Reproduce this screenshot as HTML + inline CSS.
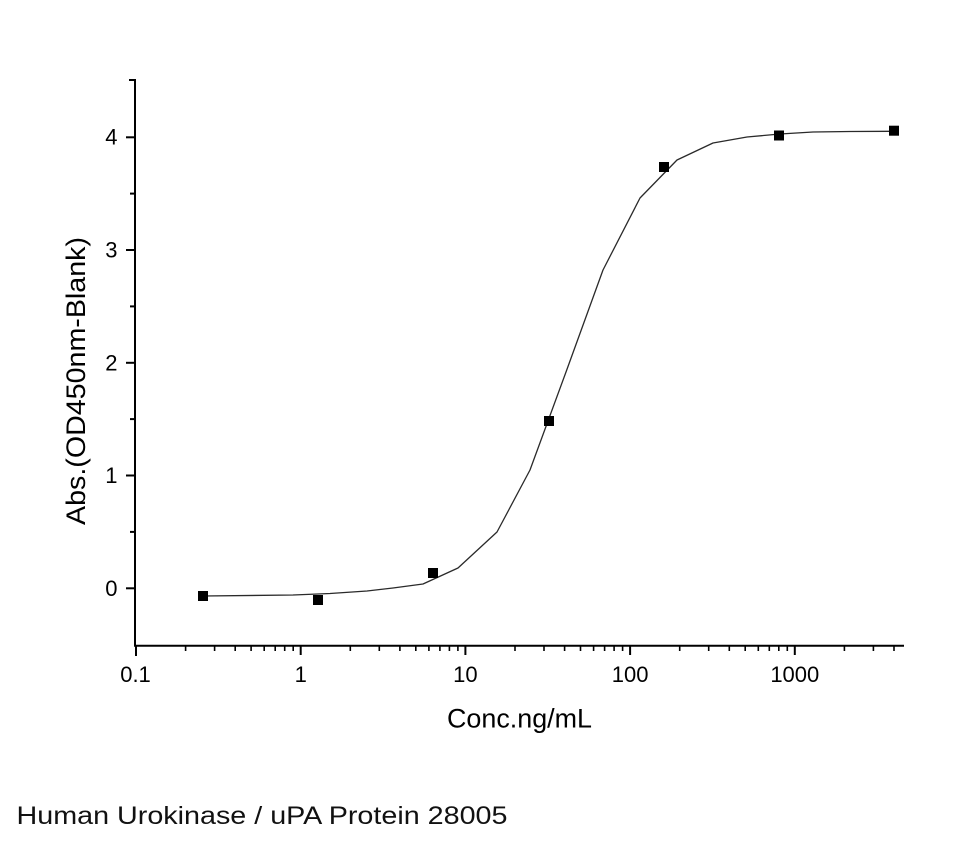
<!DOCTYPE html>
<html><head><meta charset="utf-8"><style>
html,body{margin:0;padding:0;background:#fff;}
svg{display:block;}
text{font-family:"Liberation Sans",Arial,sans-serif;fill:#000;}
</style></head><body>
<svg width="960" height="842" viewBox="0 0 960 842" xmlns="http://www.w3.org/2000/svg">
<rect width="960" height="842" fill="#fff"/>
<g stroke="#000" stroke-width="2" fill="none">
<line x1="135" y1="79" x2="135" y2="646"/>
<line x1="134" y1="645.7" x2="904" y2="645.7"/>
<line x1="126" y1="588.3" x2="135" y2="588.3"/>
<line x1="126" y1="475.5" x2="135" y2="475.5"/>
<line x1="126" y1="362.8" x2="135" y2="362.8"/>
<line x1="126" y1="250" x2="135" y2="250"/>
<line x1="126" y1="137.3" x2="135" y2="137.3"/>
<line x1="130" y1="531.9" x2="135" y2="531.9"/>
<line x1="130" y1="419.1" x2="135" y2="419.1"/>
<line x1="130" y1="306.4" x2="135" y2="306.4"/>
<line x1="130" y1="193.6" x2="135" y2="193.6"/>
<line x1="129" y1="80" x2="135" y2="80"/>
<line x1="136" y1="645" x2="136" y2="656"/>
<line x1="300.7" y1="645" x2="300.7" y2="655"/>
<line x1="465.4" y1="645" x2="465.4" y2="655"/>
<line x1="630.1" y1="645" x2="630.1" y2="655"/>
<line x1="794.8" y1="645" x2="794.8" y2="655"/>
</g>
<g stroke="#000" stroke-width="1.6">
<line x1="185.6" y1="645" x2="185.6" y2="651"/><line x1="214.6" y1="645" x2="214.6" y2="651"/><line x1="235.2" y1="645" x2="235.2" y2="651"/><line x1="251.1" y1="645" x2="251.1" y2="651"/><line x1="264.2" y1="645" x2="264.2" y2="651"/><line x1="275.2" y1="645" x2="275.2" y2="651"/><line x1="284.7" y1="645" x2="284.7" y2="651"/><line x1="293.2" y1="645" x2="293.2" y2="651"/>
<line x1="350.3" y1="645" x2="350.3" y2="651"/><line x1="379.3" y1="645" x2="379.3" y2="651"/><line x1="399.9" y1="645" x2="399.9" y2="651"/><line x1="415.8" y1="645" x2="415.8" y2="651"/><line x1="428.9" y1="645" x2="428.9" y2="651"/><line x1="439.9" y1="645" x2="439.9" y2="651"/><line x1="449.4" y1="645" x2="449.4" y2="651"/><line x1="457.9" y1="645" x2="457.9" y2="651"/>
<line x1="515" y1="645" x2="515" y2="651"/><line x1="544" y1="645" x2="544" y2="651"/><line x1="564.6" y1="645" x2="564.6" y2="651"/><line x1="580.5" y1="645" x2="580.5" y2="651"/><line x1="593.6" y1="645" x2="593.6" y2="651"/><line x1="604.6" y1="645" x2="604.6" y2="651"/><line x1="614.1" y1="645" x2="614.1" y2="651"/><line x1="622.6" y1="645" x2="622.6" y2="651"/>
<line x1="679.7" y1="645" x2="679.7" y2="651"/><line x1="708.7" y1="645" x2="708.7" y2="651"/><line x1="729.3" y1="645" x2="729.3" y2="651"/><line x1="745.2" y1="645" x2="745.2" y2="651"/><line x1="758.3" y1="645" x2="758.3" y2="651"/><line x1="769.3" y1="645" x2="769.3" y2="651"/><line x1="778.8" y1="645" x2="778.8" y2="651"/><line x1="787.3" y1="645" x2="787.3" y2="651"/>
<line x1="844.4" y1="645" x2="844.4" y2="651"/><line x1="873.4" y1="645" x2="873.4" y2="651"/><line x1="894" y1="645" x2="894" y2="651"/>
</g>
<g font-size="22">
<text x="117.5" y="596" text-anchor="end">0</text>
<text x="117.5" y="483" text-anchor="end">1</text>
<text x="117.5" y="370.5" text-anchor="end">2</text>
<text x="117.5" y="257.5" text-anchor="end">3</text>
<text x="117.5" y="144.5" text-anchor="end">4</text>
<text x="135.5" y="682" text-anchor="middle">0.1</text>
<text x="300.7" y="682" text-anchor="middle">1</text>
<text x="465.4" y="682" text-anchor="middle">10</text>
<text x="630.1" y="682" text-anchor="middle">100</text>
<text x="794.8" y="682" text-anchor="middle">1000</text>
</g>
<text x="519.5" y="727.3" text-anchor="middle" font-size="27" textLength="145" lengthAdjust="spacingAndGlyphs">Conc.ng/mL</text>
<text transform="translate(85,381) rotate(-90)" text-anchor="middle" font-size="27" textLength="288" lengthAdjust="spacingAndGlyphs">Abs.(OD450nm-Blank)</text>
<polyline fill="none" stroke="#2a2a2a" stroke-width="1.3" stroke-linejoin="round" points="203,596 293,595 330,593.5 367,591 393,588 423,584 458,568 497,532 530,470 566,372 603,270 640,198 677,160 713,143 747,137 780,134 813,132 850,131.5 895,131.3"/>
<g fill="#000">
<rect x="198" y="591" width="10" height="10"/>
<rect x="313" y="595" width="10" height="10"/>
<rect x="428" y="568" width="10" height="10"/>
<rect x="544" y="416" width="10" height="10"/>
<rect x="659" y="162" width="10" height="10"/>
<rect x="774" y="130.5" width="10" height="10"/>
<rect x="889" y="125.7" width="10" height="10"/>
</g>
<text x="16.5" y="824" font-size="25" textLength="491" lengthAdjust="spacingAndGlyphs" style="fill:#111">Human Urokinase / uPA Protein 28005</text>
</svg>
</body></html>
